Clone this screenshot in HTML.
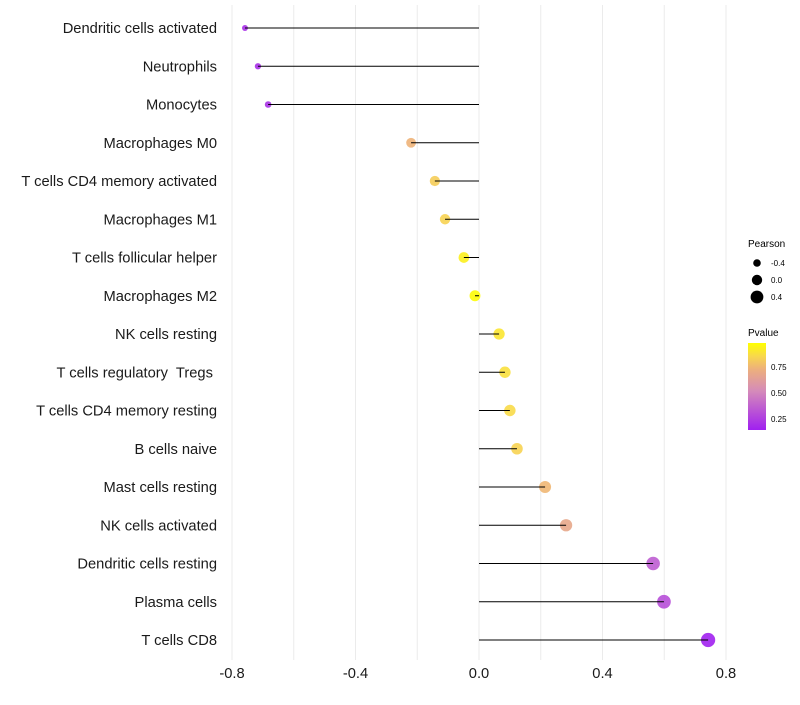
<!DOCTYPE html>
<html><head><meta charset="utf-8"><style>
body{margin:0;background:#fff;font-family:"Liberation Sans",sans-serif}
text{white-space:pre}
</style></head><body>
<svg id="chart" width="800" height="700" xmlns="http://www.w3.org/2000/svg" font-family="Liberation Sans, sans-serif">
<g id="grid"></g>
<g id="marks"></g>
<g id="ylabels"></g>
<g id="xlabels"></g>
<g>
<text x="748" y="247" font-size="10" fill="#000">Pearson</text>
<circle cx="757" cy="263" r="3.8" fill="#000"/><text x="771" y="266" font-size="8">-0.4</text>
<circle cx="757" cy="280" r="5.2" fill="#000"/><text x="771" y="283" font-size="8">0.0</text>
<circle cx="757" cy="297" r="6.4" fill="#000"/><text x="771" y="300" font-size="8">0.4</text>
</g>
<g>
<defs><linearGradient id="pg" x1="0" y1="1" x2="0" y2="0">
<stop offset="0" stop-color="#A020F0"/><stop offset="0.45" stop-color="#D58BB9"/><stop offset="0.7" stop-color="#EDB07C"/><stop offset="0.85" stop-color="#F8D84C"/><stop offset="1" stop-color="#FFFF00"/></linearGradient></defs>
<text x="748" y="336" font-size="10">Pvalue</text>
<rect x="748" y="343" width="18" height="87" fill="url(#pg)"/>
<text x="771" y="370" font-size="8">0.75</text>
<text x="771" y="396" font-size="8">0.50</text>
<text x="771" y="422" font-size="8">0.25</text>
</g>
</svg>
<script>
const cells=["Dendritic cells activated","Neutrophils","Monocytes","Macrophages M0","T cells CD4 memory activated","Macrophages M1","T cells follicular helper","Macrophages M2","NK cells resting","T cells regulatory  Tregs ","T cells CD4 memory resting","B cells naive","Mast cells resting","NK cells activated","Dendritic cells resting","Plasma cells","T cells CD8"];
const pearson=[-0.758,-0.716,-0.683,-0.22,-0.143,-0.11,-0.049,-0.013,0.065,0.084,0.10,0.123,0.214,0.282,0.564,0.599,0.742];
const pvalue=[0.2,0.2,0.21,0.74,0.82,0.84,0.93,0.97,0.9,0.88,0.86,0.84,0.75,0.68,0.36,0.31,0.15];
const xticks=[-0.8,-0.4,0,0.4,0.8];
const xtickLabels=["-0.8","-0.4","0.0","0.4","0.8"];
const NS="http://www.w3.org/2000/svg";
const x=v=>479+v*308.75;
const y=i=>28+i*38.25;
function mk(t,a,p){const e=document.createElementNS(NS,t);for(const k in a)e.setAttribute(k,a[k]);p.appendChild(e);return e;}
function hex(h){return [1,3,5].map(i=>parseInt(h.substr(i,2),16));}
const stops=[[0,"#A020F0"],[0.45,"#D58BB9"],[0.7,"#EDB07C"],[0.85,"#F8D84C"],[1,"#FFFF00"]];
function col(p){let t=(p-0.145)/(0.98-0.145);t=Math.max(0,Math.min(1,t));for(let i=1;i<stops.length;i++){if(t<=stops[i][0]){const a=hex(stops[i-1][1]),b=hex(stops[i][1]);const f=(t-stops[i-1][0])/(stops[i][0]-stops[i-1][0]);return "rgb("+a.map((v,j)=>Math.round(v+(b[j]-v)*f)).join(",")+")";}}return stops[stops.length-1][1];}
const grid=document.getElementById('grid');
for(let v=-0.8;v<=0.801;v+=0.2){const l=mk('line',{x1:x(v),x2:x(v),y1:5,y2:660,stroke:'#ebebeb','stroke-width':1},grid);

}
const marks=document.getElementById('marks'),yl=document.getElementById('ylabels'),xl=document.getElementById('xlabels');
cells.forEach((c,i)=>{
const pt=mk('circle',{cx:x(pearson[i]),cy:y(i),r:Math.sqrt(Math.max(2,30+28*pearson[i])),fill:col(pvalue[i]),'fill-opacity':0.9},marks);


const ln=mk('line',{x1:x(0),x2:x(pearson[i]),y1:y(i),y2:y(i),stroke:'#000','stroke-width':1},marks);


const t=mk('text',{x:217,y:y(i)+5,'text-anchor':'end','font-size':14.7,fill:'#1a1a1a'},yl);t.textContent=c;


});
xticks.forEach((v,i)=>{const t=mk('text',{x:x(v),y:678,'text-anchor':'middle','font-size':14.7,fill:'#1a1a1a'},xl);t.textContent=xtickLabels[i];

});
</script>
</body></html>
